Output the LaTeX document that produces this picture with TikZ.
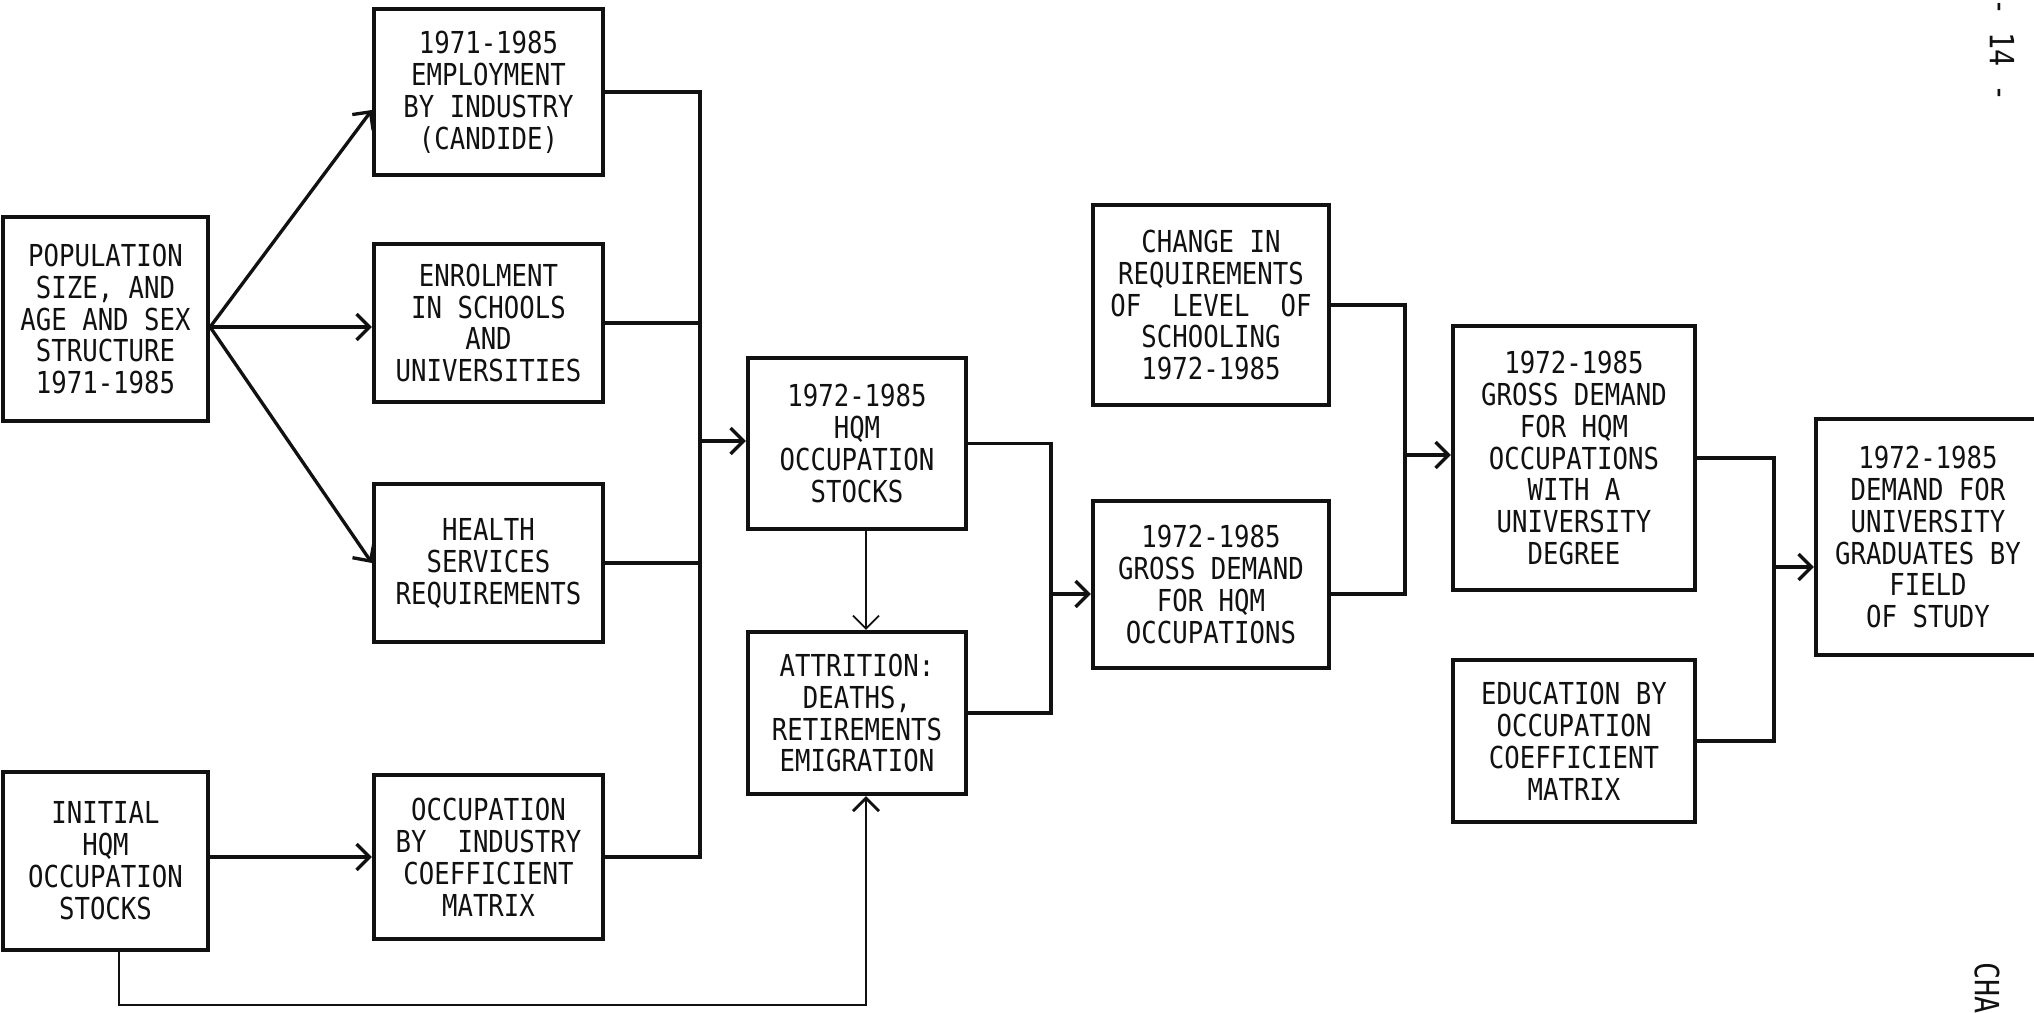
\documentclass[tikz,border=0pt]{standalone}
\usepackage{fontspec}
\setmonofont{DejaVu Sans Mono}[FakeStretch=0.85]
\usetikzlibrary{arrows.meta}
\definecolor{ink}{HTML}{111111}

\begin{document}
\begin{tikzpicture}[
    >={Straight Barb[length=1.3mm, width=2.6mm]},
    every node/.style={font=\ttfamily\fontsize{8.6}{9.1}\selectfont, align=center, text=ink},
    % Typed box
    blk/.style={rectangle, draw=ink, line width=1.2pt, inner sep=2pt},
    wire/.style={line width=0.95pt, ink},
    arr/.style={->, line width=0.95pt, ink},
    farr/.style={->, line width=0.5pt, ink}
]
\useasboundingbox (0,0) rectangle (20.34,10.12);

% ========== Column 1: inputs ==========
\node[blk, minimum width=2.05cm, minimum height=2.04cm] at (1.055, 6.93) (pop)
    {POPULATION\\SIZE, AND\\AGE AND SEX\\STRUCTURE\\1971-1985};
\node[blk, minimum width=2.05cm, minimum height=1.78cm] at (1.055, 1.51) (ini)
    {INITIAL\\HQM\\OCCUPATION\\STOCKS};

% ========== Column 2 ==========
\node[blk, minimum width=2.29cm, minimum height=1.66cm] at (4.885, 9.20) (emp)
    {1971-1985\\EMPLOYMENT\\BY INDUSTRY\\(CANDIDE)};
\node[blk, minimum width=2.29cm, minimum height=1.58cm] at (4.885, 6.89) (enr)
    {ENROLMENT\\IN SCHOOLS\\AND\\UNIVERSITIES};
\node[blk, minimum width=2.29cm, minimum height=1.58cm] at (4.885, 4.49) (hlth)
    {HEALTH\\SERVICES\\REQUIREMENTS};
\node[blk, minimum width=2.29cm, minimum height=1.64cm] at (4.885, 1.55) (occ)
    {OCCUPATION\\BY~ INDUSTRY\\COEFFICIENT\\MATRIX};

% ========== Column 3: stocks ==========
\node[blk, minimum width=2.18cm, minimum height=1.71cm] at (8.57, 5.685) (stk)
    {1972-1985\\HQM\\OCCUPATION\\STOCKS};
\node[blk, minimum width=2.18cm, minimum height=1.62cm] at (8.57, 2.99) (att)
    {ATTRITION:\\DEATHS,\\RETIREMENTS\\EMIGRATION};

% ========== Column 4 ==========
\node[blk, minimum width=2.36cm, minimum height=2.00cm] at (12.11, 7.07) (chg)
    {CHANGE IN\\REQUIREMENTS\\OF~ LEVEL~ OF\\SCHOOLING\\1972-1985};
\node[blk, minimum width=2.36cm, minimum height=1.67cm] at (12.11, 4.275) (grs)
    {1972-1985\\GROSS DEMAND\\FOR HQM\\OCCUPATIONS};

% ========== Column 5 ==========
\node[blk, minimum width=2.42cm, minimum height=2.64cm] at (15.74, 5.54) (deg)
    {1972-1985\\GROSS DEMAND\\FOR HQM\\OCCUPATIONS\\WITH A\\UNIVERSITY\\DEGREE};
\node[blk, minimum width=2.42cm, minimum height=1.62cm] at (15.74, 2.71) (edu)
    {EDUCATION BY\\OCCUPATION\\COEFFICIENT\\MATRIX};

% ========== Column 6: output (runs off the page) ==========
\node[blk, minimum width=2.24cm, minimum height=2.36cm] at (19.28, 4.75) (fin)
    {1972-1985\\DEMAND FOR\\UNIVERSITY\\GRADUATES BY\\FIELD\\OF STUDY};

% ========== Page marks ==========
\node[rotate=-90, inner sep=0pt, font=\ttfamily\fontsize{9.5}{10}\selectfont]
    at (20.02, 9.62) (pgno) {- 14 -};
\node[rotate=-90, anchor=west, inner sep=0pt, font=\ttfamily\fontsize{9.5}{10}\selectfont]
    at (19.87, 0.50) (cha) {CHA};

% ========== Population fan-out ==========
\coordinate (fan) at ([yshift=-0.08cm]pop.east);
\draw[arr] (fan) -- ([yshift=-0.18cm]emp.west);
\draw[arr] (fan) -- (fan -| enr.west);
\draw[arr] (fan) -- (hlth.west);
\draw[arr] (occ.west -| ini.east) -- (occ.west);

% ========== Bus A -> stocks ==========
\coordinate (busA) at (7.00, 5.71);
\draw[wire] (emp.east) -| (busA);
\draw[wire] (occ.east) -| (busA);
\draw[wire] (enr.east) -- (enr.east -| busA);
\draw[wire] (hlth.east) -- (hlth.east -| busA);
\draw[arr] (busA) -- (busA -| stk.west);

% stocks -> attrition, initial stocks loop
\draw[farr] ([xshift=0.09cm]stk.south) -- ([xshift=0.09cm]att.north);
\coordinate (loop) at (1.19, 0.07);
\draw[arr, line width=0.8pt] (ini.south -| loop) -- (loop) -| ([xshift=0.09cm]att.south);

% ========== Bus B -> gross demand ==========
\coordinate (busB) at (10.51, 4.18);
\draw[wire] (stk.east) -| (busB);
\draw[wire] (att.east) -| (busB);
\draw[arr] (busB) -- (busB -| grs.west);

% ========== Bus C -> degree demand ==========
\coordinate (busC) at (14.05, 5.57);
\draw[wire] (chg.east) -| (busC);
\draw[wire] (grs.east |- busB) -| (busC);
\draw[arr] (busC) -- (busC -| deg.west);

% ========== Bus D -> graduates ==========
\coordinate (busD) at (17.74, 4.45);
\draw[wire] (deg.east) -| (busD);
\draw[wire] (edu.east) -| (busD);
\draw[arr] (busD) -- (busD -| fin.west);

\end{tikzpicture}
\end{document}
